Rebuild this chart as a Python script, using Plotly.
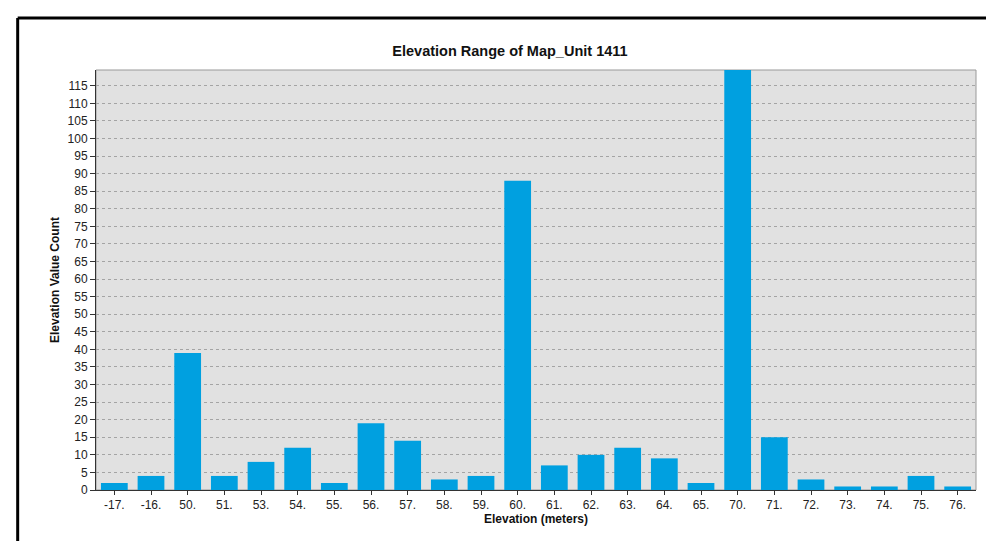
import plotly.graph_objects as go

elevations = ['-17.', '-16.', '50.', '51.', '53.', '54.', '55.', '56.', '57.', '58.', '59.', '60.',
              '61.', '62.', '63.', '64.', '65.', '70.', '71.', '72.', '73.', '74.', '75.', '76.']
counts = [2, 4, 39, 4, 8, 12, 2, 19, 14, 3, 4, 88,
          7, 10, 12, 9, 2, 121, 15, 3, 1, 1, 4, 1]
y_ticks = list(range(0, 120, 5))

fig = go.Figure()
fig.add_trace(go.Bar(
    x=elevations,
    y=counts,
    marker=dict(color='#00a0e0', line=dict(width=0)),
))

fig.update_layout(
    width=994, height=541,
    margin=dict(l=88, r=26, t=62, b=59),
    paper_bgcolor='white',
    plot_bgcolor='#e1e1e1',
    bargap=0.27,
    showlegend=False,
    font=dict(family='Liberation Sans, Arial, sans-serif', size=12, color='#222'),
    title=dict(text='<b>Elevation Range of Map_Unit 1411</b>', x=0.505, xanchor='center',
               y=0.92, yanchor='middle', font=dict(size=14.5, color='#111')),
    xaxis=dict(
        title=dict(text='<b>Elevation (meters)</b>', standoff=3, font=dict(size=12, color='#111')),
        showline=True, linecolor='#333', linewidth=1,
        ticks='outside', ticklen=4, tickcolor='#333',
        showgrid=False,
    ),
    yaxis=dict(
        title=dict(text='<b>Elevation Value Count</b>', standoff=5, font=dict(size=12, color='#111')),
        range=[0, 119.5],
        tickvals=y_ticks,
        showline=True, linecolor='#333', linewidth=1,
        ticks='outside', ticklen=5, tickcolor='#333',
        showgrid=True, gridcolor='#a4a4a4', griddash='dot', gridwidth=1,
        zeroline=False,
    ),
    shapes=[
        dict(type='rect', xref='paper', yref='paper', x0=0, x1=1, y0=0, y1=1,
             line=dict(color='#999', width=1), layer='below'),
        dict(type='line', xref='paper', yref='paper', x0=-0.089, x1=1.03, y0=1.124, y1=1.124,
             line=dict(color='black', width=3)),
        dict(type='line', xref='paper', yref='paper', x0=-0.089, x1=-0.089, y0=1.124, y1=-0.3,
             line=dict(color='black', width=3)),
    ],
)

fig.write_html('out.html')
